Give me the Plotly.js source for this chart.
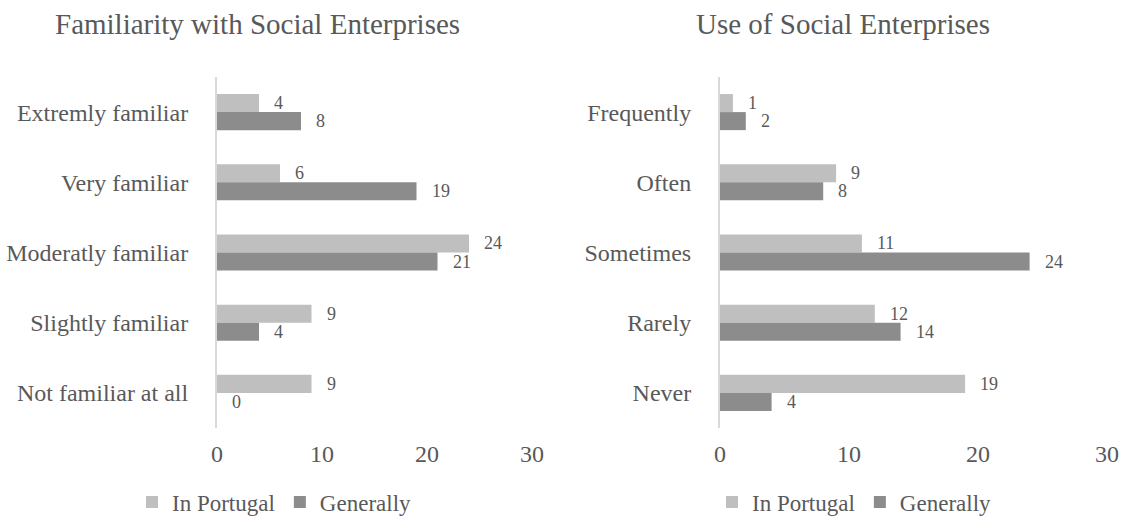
<!DOCTYPE html>
<html>
<head>
<meta charset="utf-8">
<script src="https://cdn.plot.ly/plotly-3.0.1.min.js"></script>
<style>html,body{margin:0;padding:0;background:#fff;}#chart{width:1127px;height:517px;}</style>
</head>
<body>
<div id="chart"></div>
<script>
// ---- data ----
const familiarityCategories = ['Extremly familiar', 'Very familiar', 'Moderatly familiar', 'Slightly familiar', 'Not familiar at all'];
const familiarityInPortugal = [4, 6, 24, 9, 9];
const familiarityGenerally = [8, 19, 21, 4, 0];

const useCategories = ['Frequently', 'Often', 'Sometimes', 'Rarely', 'Never'];
const useInPortugal = [1, 9, 11, 12, 19];
const useGenerally = [2, 8, 24, 14, 4];

const seriesNames = ['In Portugal', 'Generally'];
const chartTitles = ['Familiarity with Social Enterprises', 'Use of Social Enterprises'];
const xTicks = [0, 10, 20, 30];

// ---- style ----
const FONT = 'Liberation Serif, Times New Roman, serif';
const TXT = '#595959';
const LIGHT = '#bfbfbf';
const DARK = '#8c8c8c';
const BARGAP = 0.486;

function barTrace(name, x, y, color, xa, ya, legend) {
  return {
    type: 'bar', orientation: 'h', name: name, x: x, y: y,
    xaxis: xa, yaxis: ya, legend: legend,
    marker: {color: color, line: {width: 0}},
    hoverinfo: 'x+y'
  };
}

const traces = [
  barTrace(seriesNames[0], familiarityInPortugal, familiarityCategories, LIGHT, 'x', 'y', 'legend'),
  barTrace(seriesNames[1], familiarityGenerally, familiarityCategories, DARK, 'x', 'y', 'legend'),
  barTrace(seriesNames[0], useInPortugal, useCategories, LIGHT, 'x2', 'y2', 'legend2'),
  barTrace(seriesNames[1], useGenerally, useCategories, DARK, 'x2', 'y2', 'legend2')
];

// data labels placed at the end of each bar
const barW = (1 - BARGAP) / 2;
const annotations = [];
function addLabels(vals, xref, yref, offset) {
  vals.forEach((v, i) => {
    annotations.push({
      x: v, y: i + offset, xref: xref, yref: yref,
      text: String(v), showarrow: false, xanchor: 'left', yanchor: 'middle',
      xshift: 13, font: {family: FONT, size: 18, color: TXT}
    });
  });
}
addLabels(familiarityInPortugal, 'x', 'y', -barW / 2);
addLabels(familiarityGenerally, 'x', 'y', barW / 2);
addLabels(useInPortugal, 'x2', 'y2', -barW / 2);
addLabels(useGenerally, 'x2', 'y2', barW / 2);

// titles
annotations.push({
  text: chartTitles[0], xref: 'paper', yref: 'paper', x: 257 / 1127, y: 1 - 24 / 517,
  xanchor: 'center', yanchor: 'middle', showarrow: false,
  font: {family: FONT, size: 29, color: TXT}
});
annotations.push({
  text: chartTitles[1], xref: 'paper', yref: 'paper', x: 843 / 1127, y: 1 - 24 / 517,
  xanchor: 'center', yanchor: 'middle', showarrow: false,
  font: {family: FONT, size: 29, color: TXT}
});

const yDomain = [1 - 428 / 517, 1 - 77 / 517];

function xAxis(domain, anchor) {
  return {
    domain: domain, anchor: anchor, range: [0, 30], tickvals: xTicks,
    showgrid: false, zeroline: false, showline: false, ticks: '',
    ticklabelstandoff: 9, fixedrange: true, automargin: false,
    tickfont: {family: FONT, size: 24, color: TXT}
  };
}
function yAxis(cats, anchor) {
  return {
    domain: yDomain, anchor: anchor, type: 'category',
    categoryorder: 'array', categoryarray: cats, autorange: 'reversed',
    showgrid: false, zeroline: false, showline: true, linecolor: '#d9d9d9', linewidth: 2,
    ticks: '', ticklabelstandoff: 22, fixedrange: true, automargin: false,
    tickfont: {family: FONT, size: 24, color: TXT}
  };
}

const legendBase = {
  orientation: 'h', yanchor: 'middle', xanchor: 'left',
  xref: 'container', yref: 'container', y: 1 - 502 / 517,
  font: {family: FONT, size: 23, color: TXT}, bgcolor: 'rgba(0,0,0,0)',
  traceorder: 'normal', itemwidth: 30, tracegroupgap: 0
};

const layout = {
  width: 1127, height: 517,
  margin: {l: 0, r: 0, t: 0, b: 0, autoexpand: false},
  paper_bgcolor: '#ffffff', plot_bgcolor: '#ffffff',
  font: {family: FONT, color: TXT},
  barmode: 'group', bargap: BARGAP, bargroupgap: 0,
  showlegend: true,
  xaxis: xAxis([217 / 1127, 532 / 1127], 'y'),
  yaxis: yAxis(familiarityCategories, 'x'),
  xaxis2: xAxis([720 / 1127, 1107 / 1127], 'y2'),
  yaxis2: yAxis(useCategories, 'x2'),
  legend: Object.assign({}, legendBase, {x: 132 / 1127}),
  legend2: Object.assign({}, legendBase, {x: 712 / 1127}),
  annotations: annotations
};

Plotly.newPlot('chart', traces, layout, {displayModeBar: false, staticPlot: false});
</script>
</body>
</html>
